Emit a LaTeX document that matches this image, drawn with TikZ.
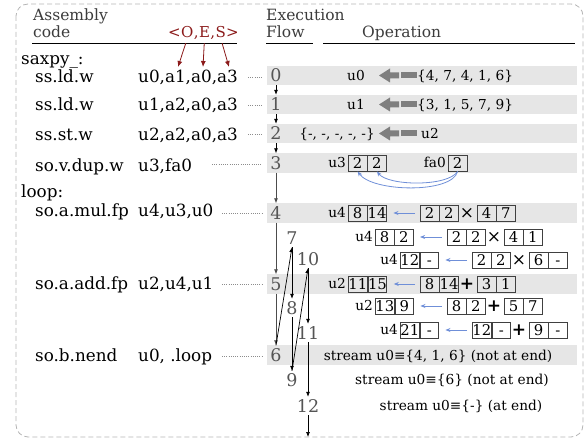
\documentclass[tikz,border=0pt]{standalone}
\usepackage{fontspec}
\setmainfont{DejaVu Serif}
\usetikzlibrary{arrows.meta,calc}

\definecolor{bandgray}{HTML}{E6E6E6}
\definecolor{hdrgray}{HTML}{3C3C3C}
\definecolor{numgray}{HTML}{555555}
\definecolor{oesred}{HTML}{8B1A1A}
\definecolor{flowblue}{HTML}{6F8FD8}
\definecolor{fatgray}{HTML}{7F7F7F}
\definecolor{framegray}{HTML}{B4B4B4}

% result half of an operation row: label, two result cells
\newcommand\resultpart[6]{%
  \node[optext, anchor=base east] (#1l) at (346+#3, #2+5) {#4};
  \node[cell] (#1r1) at (348+#3, #2) {#5};
  \node[cell] (#1r2) at (#1r1.east) {#6};
}
% operand half of an operation row: two pairs of cells and the operator
\newcommand\operandpart[8]{%
  \node[cell] (#1a1) at (420+#3, #2) {#4};
  \node[cell] (#1a2) at (#1a1.east) {#5};
  \node[signnode] (#1s) at (467+#3, #2) {#6};
  \node[cell] (#1b1) at (477+#3, #2) {#7};
  \node[cell] (#1b2) at (#1b1.east) {#8};
  \draw[bluearrow, shorten <=5pt, shorten >=6.5pt] (#1a1.west) -- (#1r2.east);
}
% thick grey transfer arrow, tip at (#1,#2)
\newcommand\fatarrow[2]{%
  \fill[fatgray] (#1,#2) -- ++(11,-7) -- ++(0,4) -- ++(9,0) -- ++(0,6)
    -- ++(-9,0) -- ++(0,4) -- cycle;
  \fill[fatgray] (#1+22,#2-3) rectangle (#1+38,#2+3);
}

\begin{document}
\begin{tikzpicture}[x=1pt,y=-1pt,
  hdr/.style={font=\fontsize{15.5}{17}\selectfont, text=hdrgray, inner sep=0, anchor=base west},
  code/.style={font=\fontsize{16.8}{18}\selectfont, inner sep=0, anchor=base west},
  oes/.style={font=\fontsize{15}{17}\selectfont, text=oesred, inner sep=0, anchor=base west},
  num/.style={font=\fontsize{17.5}{18}\selectfont, text=numgray, inner sep=0, minimum width=10pt, minimum height=19pt},
  subnum/.style={num, minimum height=18pt},
  optext/.style={font=\fontsize{13.7}{15}\selectfont, inner sep=0},
  cell/.style={draw=black!75, line width=0.8pt, minimum width=18.5pt, minimum height=16pt,
    inner sep=0, anchor=west, text height=10.5pt, text depth=0pt, font=\fontsize{14.8}{15}\selectfont},
  signnode/.style={font=\fontsize{17}{17}\selectfont, inner sep=0},
  flow/.style={-{Latex[length=5pt,width=4pt]}, line width=0.7pt},
  mainflow/.style={flow, draw=black!70},
  bluearrow/.style={-{Stealth[length=5pt,width=4pt]}, draw=flowblue, line width=0.8pt},
  redarrow/.style={-{Latex[length=6pt,width=5pt]}, draw=oesred, line width=0.8pt},
  dotline/.style={draw=black!45, line width=0.7pt, dash pattern=on 0.7pt off 1.5pt},
  rule/.style={line width=0.8pt}
]
\useasboundingbox (0,0) rectangle (586,443);

% frame
\draw[framegray, line width=0.8pt, dash pattern=on 5pt off 3pt, rounded corners=12pt]
  (16,4) rectangle (583,437);

% shaded step bands
\foreach \yc in {75.5,104.5,133.5,163,213,284,355}
  \fill[bandgray] (267,\yc-9.75) rectangle (577,\yc+9.75);

% headers
\node[hdr] (hA) at (33,21) {Assembly};
\node[hdr] (hC) at (33,38) {code};
\node[hdr] (hX) at (266,21) {Execution};
\node[hdr] (hF) at (266,38) {Flow};
\node[hdr] (hOp) at (362,38) {Operation};
\draw[rule] (32,43.3) -- (237,43.3);
\draw[rule] (266,43.3) -- (313,43.3);
\draw[rule] (323,43.3) -- (575,43.3);

\node[oes] (hl) at (168,38) {<};
\node[oes] (hO) at (hl.base east) {O};
\node[oes] (hc1) at (hO.base east) {,};
\node[oes] (hE) at (hc1.base east) {E};
\node[oes] (hc2) at (hE.base east) {,};
\node[oes] (hS) at (hc2.base east) {S};
\node[oes] (hr) at (hS.base east) {>};

% assembly code
\node[code] (lab1) at (21,65) {saxpy\_:};
\node[code] (i0) at (35,83) {ss.ld.w};
\node[code] (o0) at (138,83) {u0,a1,a0,a3};
\node[code] (i1) at (35,111) {ss.ld.w};
\node[code] (o1) at (138,111) {u1,a2,a0,a3};
\node[code] (i2) at (35,141) {ss.st.w};
\node[code] (o2) at (138,141) {u2,a2,a0,a3};
\node[code] (i3) at (35,172) {so.v.dup.w};
\node[code] (o3) at (138,172) {u3,fa0};
\node[code] (lab2) at (21,198) {loop:};
\node[code] (i4) at (35,217) {so.a.mul.fp};
\node[code] (o4) at (138,217) {u4,u3,u0};
\node[code] (i5) at (35,290) {so.a.add.fp};
\node[code] (o5) at (138,290) {u2,u4,u1};
\node[code] (i6) at (35,362) {so.b.nend};
\node[code] (o6) at (138,362) {u0, .loop};

% offset / extent / stride markers
\coordinate (tO) at (178,67);
\coordinate (tE) at (203,67);
\coordinate (tS) at (229,67);
\draw[redarrow, shorten <=5pt] (hO.south) -- (tO);
\draw[redarrow, shorten <=5pt] (hE.south) -- (tE);
\draw[redarrow, shorten <=5pt] (hS.south) -- (tS);

% execution steps
\node[num] (n0) at (276,75.5) {0};
\node[num] (n1) at (276,104.5) {1};
\node[num] (n2) at (276,133.5) {2};
\node[num] (n3) at (276,163) {3};
\node[num] (n4) at (276,213) {4};
\node[num] (n5) at (276,284) {5};
\node[num] (n6) at (276,355) {6};
\node[subnum] (n7) at (292,238) {7};
\node[subnum] (n8) at (292,308) {8};
\node[subnum] (n9) at (292,380) {9};
\node[subnum] (n10) at (308,259) {10};
\node[subnum] (n11) at (308,333) {11};
\node[subnum] (n12) at (308,406) {12};
\coordinate (nend) at (308,437);

% code line to step
\coordinate (d0) at (248,77);
\coordinate (d1) at (248,105);
\coordinate (d2) at (248,134);
\coordinate (d3) at (212,164);
\coordinate (d4) at (222,213);
\coordinate (d5) at (222,284);
\coordinate (d6) at (222,356);
\foreach \k in {0,...,6}
  \draw[dotline, shorten >=8pt] (d\k) -- (d\k -| n\k.west);

% control flow
\draw[flow] (n0.south) -- (n1.north);
\draw[flow] (n1.south) -- (n2.north);
\draw[flow] (n2.south) -- (n3.north);
\draw[mainflow] (n3.south) -- (n4.north);
\draw[mainflow] (n4.south) -- (n5.north);
\draw[mainflow] (n5.south) -- (n6.north);
\draw[flow] (n6.north) -- (n7.south);
\draw[flow] (n7.south) -- (n8.north);
\draw[flow] (n8.south) -- (n9.north);
\draw[flow] (n9.north) -- (n10.south);
\draw[flow] (n10.south) -- (n11.north);
\draw[flow] (n11.south) -- (n12.north);
\draw[flow] (n12.south) -- (nend);

% streams in / out
\node[optext, anchor=base] (s0) at (356,80.5) {u0};
\fatarrow{379}{75.5}
\node[optext, anchor=base west] (v0) at (417,80.5) {\{4, 7, 4, 1, 6\}};
\node[optext, anchor=base] (s1) at (356,109.5) {u1};
\fatarrow{379}{104.5}
\node[optext, anchor=base west] (v1) at (417,109.5) {\{3, 1, 5, 7, 9\}};
\node[optext, anchor=base east] (v2) at (375,138.5) {\{-, -, -, -, -\}};
\fatarrow{379}{133.5}
\node[optext, anchor=base west] (s2) at (421,138.5) {u2};

% broadcast of fa0
\node[optext, anchor=base east] (u3l) at (346,168) {u3};
\node[cell] (u3a) at (348,163) {2};
\node[cell] (u3b) at (u3a.east) {2};
\node[optext, anchor=base east] (fal) at (446,168) {fa0};
\node[cell] (fa) at (448,163) {2};
\draw[bluearrow] (fa.south) .. controls (452,194) and (372,192) .. (u3a.south);
\draw[bluearrow] (fa.south) .. controls (448,187) and (388,186) .. (u3b.south);

% multiply iterations
\resultpart{m4}{213}{0}{u4}{8}{14}
\operandpart{m4}{213}{0}{2}{2}{×}{4}{7}
\resultpart{m7}{237}{27}{u4}{8}{2}
\operandpart{m7}{237}{27}{2}{2}{×}{4}{1}
\resultpart{m10}{260}{52}{u4}{12}{-}
\operandpart{m10}{260}{52}{2}{2}{×}{6}{-}

% add iterations
\resultpart{a5}{284}{0}{u2}{11}{15}
\operandpart{a5}{284}{0}{8}{14}{\textbf{+}}{3}{1}
\resultpart{a8}{306}{27}{u2}{13}{9}
\operandpart{a8}{306}{27}{8}{2}{\textbf{+}}{5}{7}
\resultpart{a11}{330}{52}{u4}{21}{-}
\operandpart{a11}{330}{52}{12}{-}{\textbf{+}}{9}{-}

% loop branch
\node[optext, anchor=base] (b6) at (438,360) {stream u0≡\{4, 1, 6\} (not at end)};
\node[optext, anchor=base] (b9) at (452,384) {stream u0≡\{6\} (not at end)};
\node[optext, anchor=base] (b12) at (461,410) {stream u0≡\{-\} (at end)};
\end{tikzpicture}
\end{document}
